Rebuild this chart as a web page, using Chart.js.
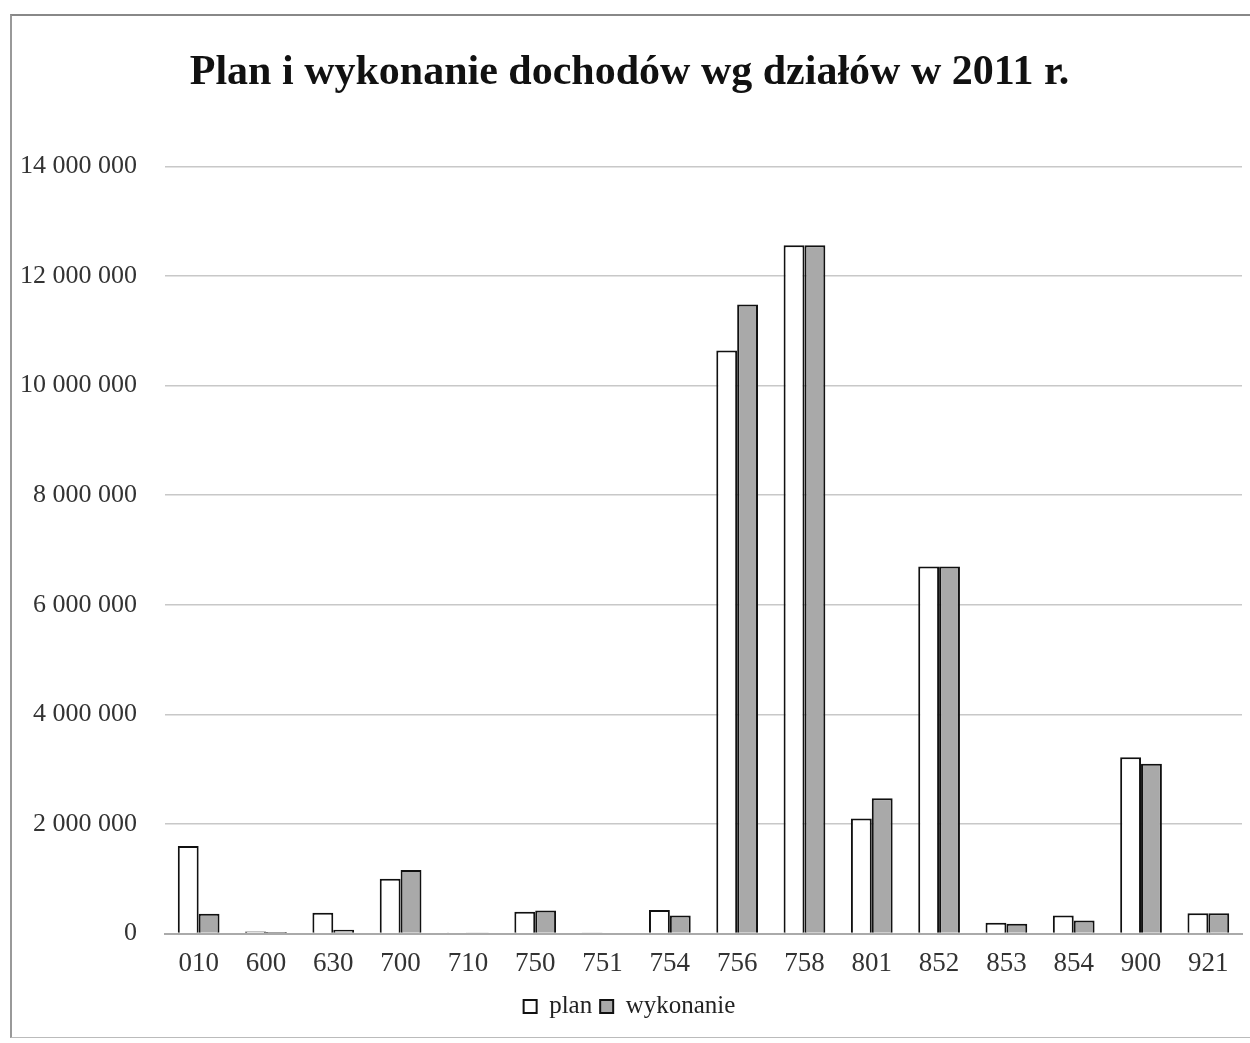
<!DOCTYPE html>
<html><head><meta charset="utf-8">
<script src="https://cdn.jsdelivr.net/npm/chart.js@4/dist/chart.umd.min.js"></script>
<style>
html,body{margin:0;padding:0;background:#fff;}
#wrap{position:absolute;left:10px;top:14px;width:1240px;height:1024px;border-left:2px solid #999;border-top:2px solid #888;border-bottom:1px solid #bbb;box-sizing:border-box;}
canvas{display:block;}
</style></head><body>
<div id="wrap"><canvas id="c" width="1238" height="1022"></canvas></div>
<script>
const categories = ["010","600","630","700","710","750","751","754","756","758","801","852","853","854","900","921"];
const planValues = [1600000,40000,380000,1000000,10000,400000,20000,430000,10640000,12560000,2100000,6700000,200000,330000,3220000,370000];
const wykonanieValues = [360000,30000,70000,1160000,20000,420000,15000,330000,11480000,12560000,2470000,6700000,180000,240000,3100000,370000];
const yTicks = [0,2000000,4000000,6000000,8000000,10000000,12000000,14000000];
const titleText = "Plan i wykonanie dochodów wg działów w 2011 r.";
const seriesNames = ["plan","wykonanie"];

function fmt(v){return String(v).replace(/\B(?=(\d{3})+(?!\d))/g,' ');}

new Chart(document.getElementById('c'),{
  type:'bar',
  data:{labels:categories,datasets:[
    {label:seriesNames[0],data:planValues,backgroundColor:'#ffffff',borderColor:'#111',borderWidth:2,borderSkipped:'bottom'},
    {label:seriesNames[1],data:wykonanieValues,backgroundColor:'#a9a9a9',borderColor:'#111',borderWidth:2,borderSkipped:'bottom'}
  ]},
  options:{
    responsive:false,animation:false,
    layout:{padding:{left:5,right:8,top:24,bottom:9}},
    datasets:{bar:{categoryPercentage:0.62,barPercentage:1.0}},
    plugins:{
      title:{display:true,text:titleText,color:'#111',font:{family:'Liberation Serif',size:42,weight:'bold'},padding:{top:8,bottom:68}},
      legend:{position:'bottom',labels:{color:'#222',font:{family:'Liberation Serif',size:25},boxWidth:13,boxHeight:13,padding:8,useBorderRadius:false}},
      tooltip:{enabled:false}
    },
    scales:{
      x:{grid:{display:false},border:{color:'#aaa',width:2},
         ticks:{color:'#333',font:{family:'Liberation Serif',size:27},padding:6}},
      y:{min:0,max:14000000,afterBuildTicks:(ax)=>{ax.ticks=yTicks.map(v=>({value:v}));},
         afterFit:(ax)=>{ax.width=148;},
         grid:{color:'#c8c8c8',lineWidth:1.5,drawTicks:false},border:{display:false},
         ticks:{color:'#333',font:{family:'Liberation Serif',size:26},padding:28,callback:(v)=>fmt(v)}}
    }
  }
});
</script>
</body></html>
